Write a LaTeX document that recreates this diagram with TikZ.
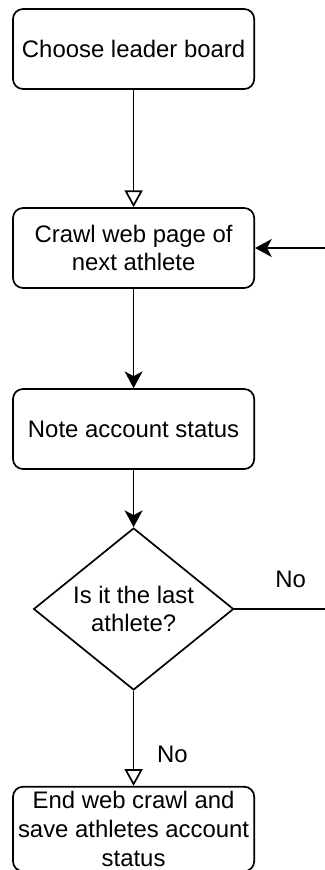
\documentclass[tikz,border=0pt]{standalone}
\usepackage{fontspec}
\setmainfont{Liberation Sans}
\usetikzlibrary{positioning, shapes.geometric, arrows.meta}

\begin{document}
\begin{tikzpicture}[
stepnode/.style={rectangle, rounded corners=0.25cm, draw=black, fill=white, line width=1.2pt, minimum width=6.03cm, minimum height=2cm, align=center, font=\fontsize{17}{20.5}\selectfont},
decnode/.style={diamond, draw=black, fill=white, line width=1.2pt, minimum width=5cm, minimum height=4.05cm, aspect=1.23, inner sep=0pt, align=center, font=\fontsize{17}{20}\selectfont},
to/.style={-{Stealth[length=0.42cm, width=0.45cm, inset=0.12cm]}, line width=1.2pt},
toopen/.style={-{Triangle[open, length=0.42cm, width=0.45cm]}, line width=1.2pt},
nolabel/.style={font=\fontsize{17}{20}\selectfont},
]
\useasboundingbox (0,0) rectangle (8.125,-21.75);
%nodes
\node[stepnode](choose) at (3.34, -1.225) {Choose leader board};
\node[stepnode](crawl) at (3.34, -6.2) {Crawl web page of\\next athlete};
\node[stepnode](note) at (3.34, -10.725) {Note account status};
\node[decnode](dec) at (3.34, -15.225) {Is it the last\\athlete?};
\node[stepnode, minimum height=1.95cm](finish) at (3.34, -20.725) {End web crawl and\\save athletes account\\status};
\coordinate (loopB) at (8.125, -15.225);
\coordinate (loopT) at (8.125, -6.2);
%connections
\draw[toopen] (choose) -- (crawl);
\draw[to] (crawl) -- (note);
\draw[to] (note) -- (dec);
\draw[line width=1.2pt] (dec.east) -- node[nolabel, pos=0.62, above=0.4cm] {No} (loopB);
\draw[to] (loopT) -- (crawl.east);
\draw[toopen] (dec) -- node[nolabel, pos=0.67, right=0.45cm] {No} (finish);
\end{tikzpicture}
\end{document}
